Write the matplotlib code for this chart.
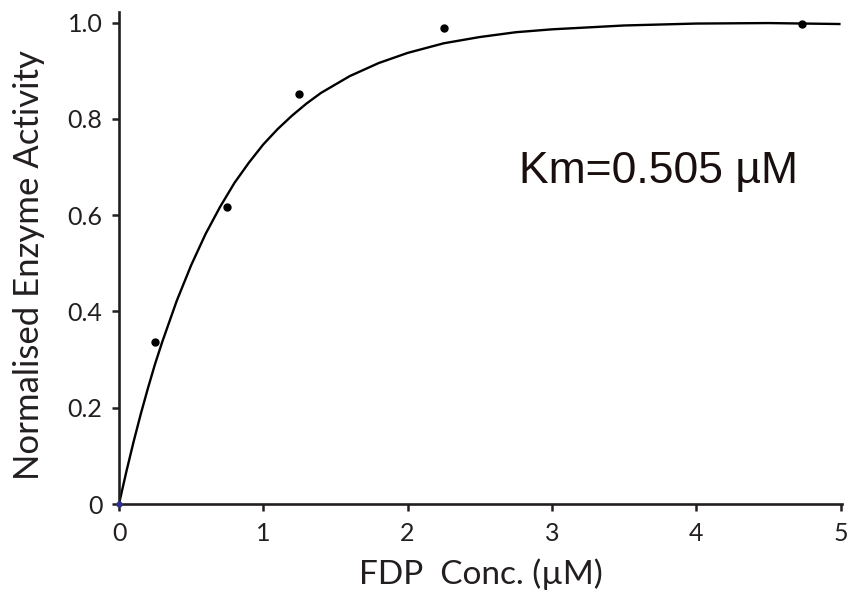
import matplotlib
matplotlib.use("Agg")
import matplotlib.pyplot as plt

# measured points
conc = [0.25, 0.75, 1.25, 2.25, 4.73]
activity = [0.336, 0.616, 0.851, 0.989, 0.998]

# fitted curve
fit_x = [0, 0.05, 0.1, 0.15, 0.2, 0.25, 0.3, 0.4, 0.5, 0.6, 0.7, 0.8, 0.9, 1.0,
         1.1, 1.2, 1.3, 1.4, 1.6, 1.8, 2.0, 2.25, 2.5, 2.75, 3.0, 3.5, 4.0, 4.5, 5.0]
fit_y = [0, 0.066, 0.128, 0.186, 0.240, 0.291, 0.337, 0.422, 0.496, 0.561, 0.617, 0.667,
         0.709, 0.747, 0.779, 0.807, 0.832, 0.854, 0.889, 0.916, 0.937, 0.957, 0.970,
         0.980, 0.986, 0.994, 0.998, 0.999, 0.997]

xticks = [0, 1, 2, 3, 4, 5]
yticks = [0, 0.2, 0.4, 0.6, 0.8, 1.0]
yticklabels = ["0", "0.2", "0.4", "0.6", "0.8", "1.0"]

INK = "#231f20"
W, H = 850, 590

fig = plt.figure(figsize=(8.5, 5.9), dpi=100)
ax = fig.add_axes([119 / W, 1 - 504 / H, (842 - 119) / W, (504 - 12) / H])

ax.plot(fit_x, fit_y, color="black", lw=1.7, solid_capstyle="butt", zorder=2)
ax.plot(conc, activity, "o", color="black", ms=5, zorder=3)
ax.plot([0], [0], "o", color="#2e3192", ms=3.5, zorder=4, clip_on=False)

ax.set_xlim(0, 5.01)
ax.set_ylim(0, 1.022)
ax.set_xticks(xticks)
ax.set_xticklabels([str(t) for t in xticks])
ax.set_yticks(yticks)
ax.set_yticklabels(yticklabels)

for side in ["top", "right"]:
    ax.spines[side].set_visible(False)
for side in ["left", "bottom"]:
    ax.spines[side].set_linewidth(1.9)
    ax.spines[side].set_color(INK)

ax.tick_params(axis="both", direction="out", length=5, width=1.8, color=INK,
               labelsize=18, labelcolor=INK)
ax.tick_params(axis="x", pad=8)
ax.tick_params(axis="y", pad=7)
for lbl in ax.get_xticklabels() + ax.get_yticklabels():
    lbl.set_family("Lato")

fig.text(481 / W, 1 - 574 / H, "FDP  Conc. (µM)", fontsize=24, family="Lato",
         color=INK, ha="center", va="center")
fig.text(29 / W, 1 - 265 / H, "Normalised Enzyme Activity", fontsize=25, family="Lato",
         color=INK, ha="center", va="center", rotation=90)

ax.text(2.77, 0.667, "Km=0.505 µM", fontsize=32, family="Liberation Sans",
        color="#1a0f0f", ha="left", va="baseline")

fig.savefig("out.png", dpi=100)
